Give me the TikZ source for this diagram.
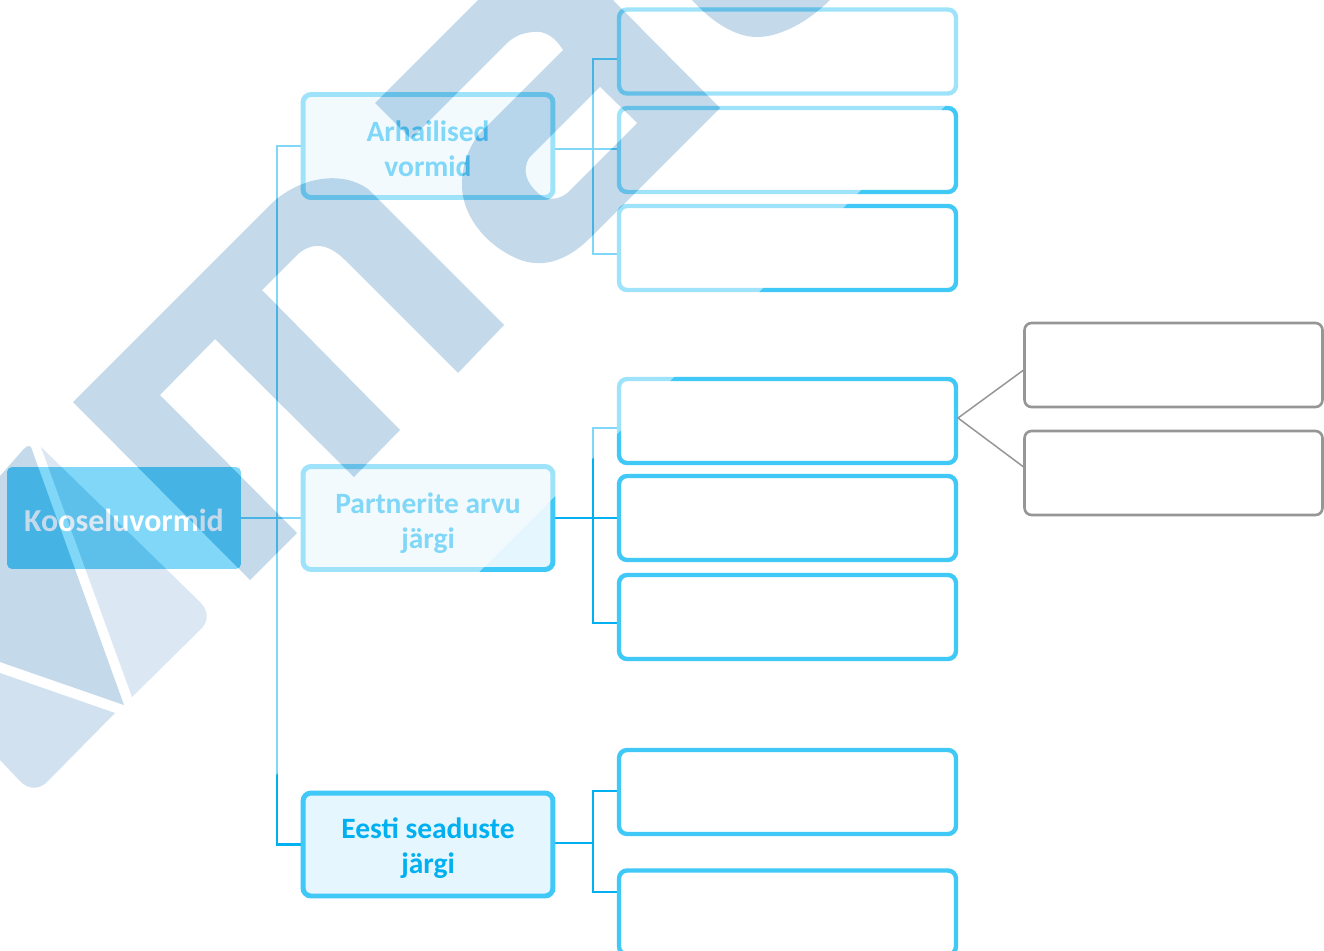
\documentclass[tikz,border=0pt]{standalone}
\usepackage{fontspec}
\setmainfont{Carlito}
\usetikzlibrary{backgrounds}
\definecolor{cyanmain}{RGB}{0,176,240}
\definecolor{cyanborder}{RGB}{64,200,247}
\definecolor{cyanfill}{RGB}{230,246,254}
\definecolor{greyborder}{RGB}{150,150,150}
\definecolor{markA}{RGB}{139,183,217}
\definecolor{markB}{RGB}{185,209,231}
\definecolor{markC}{RGB}{165,197,225}
\tikzset{
  x=0.02cm,y=-0.02cm,
  basebox/.style={rectangle,outer sep=0pt,inner sep=0pt,anchor=center},
  rootbox/.style={basebox,fill=cyanmain,rounded corners=0.1cm,minimum width=4.68cm,minimum height=2.04cm},
  roottext/.style={basebox,text=white,font=\fontsize{18.2}{20}\selectfont\bfseries,align=center},
  groupbox/.style={basebox,draw=cyanborder,fill=cyanfill,line width=2.83pt,rounded corners=0.16cm,
    minimum width=5.0cm,minimum height=2.06cm},
  grouptext/.style={basebox,text=cyanmain,font=\fontsize{16.8}{20}\selectfont\bfseries,align=center},
  leafbox/.style={basebox,draw=cyanborder,fill=white,line width=2.5pt,rounded corners=0.16cm,
    minimum width=6.74cm,minimum height=1.68cm},
  greybox/.style={basebox,draw=greyborder,fill=white,line width=1.5pt,rounded corners=0.14cm,
    minimum width=5.96cm,minimum height=1.68cm},
  wire/.style={draw=cyanmain,line width=1.4pt},
  greywire/.style={draw=greyborder,line width=0.85pt},
}
\begin{document}
\begin{tikzpicture}
\useasboundingbox (0,0) rectangle (1324,950);
\begin{pgfonlayer}{background}
\fill[white] (0,0) rectangle (1324,950);
\end{pgfonlayer}
\clip (0,0) rectangle (1324,950);

\node[rootbox] (root) at (124,518) {};
\node[roottext] (roott) at (124,520) {Kooseluvormid};
\node[groupbox] (g1) at (428,146) {};
\node[groupbox] (g2) at (428,518) {};
\node[groupbox] (g3) at (428,844.5) {};
\node[grouptext] (g1t) at (428,149) {Arhailised\\vormid};
\node[grouptext] (g2t) at (428,523) {Partnerite arvu\\järgi};
\node[grouptext] (g3t) at (428,848.5) {Eesti seaduste\\järgi};
\node[leafbox] (l1) at (787.5,51.5) {};
\node[leafbox] (l2) at (787.5,150) {};
\node[leafbox] (l3) at (787.5,248) {};
\node[leafbox] (l4) at (787.5,421) {};
\node[leafbox] (l5) at (787.5,518) {};
\node[leafbox] (l6) at (787.5,617) {};
\node[leafbox] (l7) at (787.5,792) {};
\node[leafbox] (l8) at (787.5,912.5) {};
\node[greybox] (c1) at (1173.5,365) {};
\node[greybox] (c2) at (1173.5,473) {};

\coordinate (t0) at (277,518);
\coordinate (j1) at (593,149);
\coordinate (j2) at (593,518);
\coordinate (j3) at (593,843);
\coordinate (s11) at (617,59);
\coordinate (s12) at (617,149);
\coordinate (s13) at (617,254);
\coordinate (s21) at (617,428);
\coordinate (s23) at (617,623);
\coordinate (s31) at (617,791);
\coordinate (s32) at (617,892);
\coordinate (gs) at (958,418);
\coordinate (ge1) at (1025,369);
\coordinate (ge2) at (1025,468);

\begin{pgfonlayer}{background}
\draw[wire] (root.east) -- (g2.west);
\draw[wire] (t0) |- (g1.west);
\draw[wire] (t0) |- (g3.west);
\draw[wire] (g1.east |- s12) -- (s12);
\draw[wire] (j1) |- (s11);
\draw[wire] (j1) |- (s13);
\draw[wire] (g2.east) -- (l5.west);
\draw[wire] (j2) |- (s21);
\draw[wire] (j2) |- (s23);
\draw[wire] (g3.east |- j3) -- (j3);
\draw[wire] (j3) |- (s31);
\draw[wire] (j3) |- (s32);
\end{pgfonlayer}
\draw[greywire] (ge1) -- (gs) -- (ge2);

% fading layer with the watermark, laid over everything at half strength
\begin{scope}[transparency group,opacity=0.5]
\fill[white] (0,0) -- (1051,0) -- (101,950) -- (0,950) -- cycle;
% m
\fill[markA] (73,402) -- (270,205) .. controls (295,180) and (338,168) .. (368,189)
  -- (504,325) -- (458,373) -- (345,260) .. controls (328,243) and (312,242) .. (298,254)
  -- (262,290) -- (400,430) -- (354,477) -- (215,339) -- (160,395) -- (297,533) -- (250,580) -- cycle;
% a
\fill[markA] (375,103) -- (478,0) -- (613,0) -- (720,108) -- (590,238)
  .. controls (570,258) and (545,270) .. (518,259)
  .. controls (485,245) and (462,215) .. (462,185)
  .. controls (462,165) and (468,150) .. (478,135)
  -- (563,50) .. controls (556,38) and (545,30) .. (533,32)
  .. controls (522,33) and (515,36) .. (507,43)
  -- (411,139) -- cycle;
\fill[white] (600,87) -- (637,123) -- (567,193)
  .. controls (555,202) and (545,199) .. (538,193)
  .. controls (527,183) and (521,170) .. (530,157) -- cycle;
% top arc
\fill[markA] (692,0) .. controls (712,22) and (735,37) .. (757,37)
  .. controls (780,37) and (808,22) .. (830,0) -- cycle;
% envelope
\fill[markA] (0,476) -- (22,451) .. controls (26,446) and (29,445) .. (31,447) -- (124,705) -- (0,662) -- cycle;
\fill[markB] (41,447) -- (200,602) .. controls (208,610) and (209,620) .. (202,628) -- (132,697) -- cycle;
\fill[markC] (0,673) -- (115,713) -- (48,781) .. controls (40,790) and (28,790) .. (20,781) -- (0,760) -- cycle;
\end{scope}
\end{tikzpicture}
\end{document}
